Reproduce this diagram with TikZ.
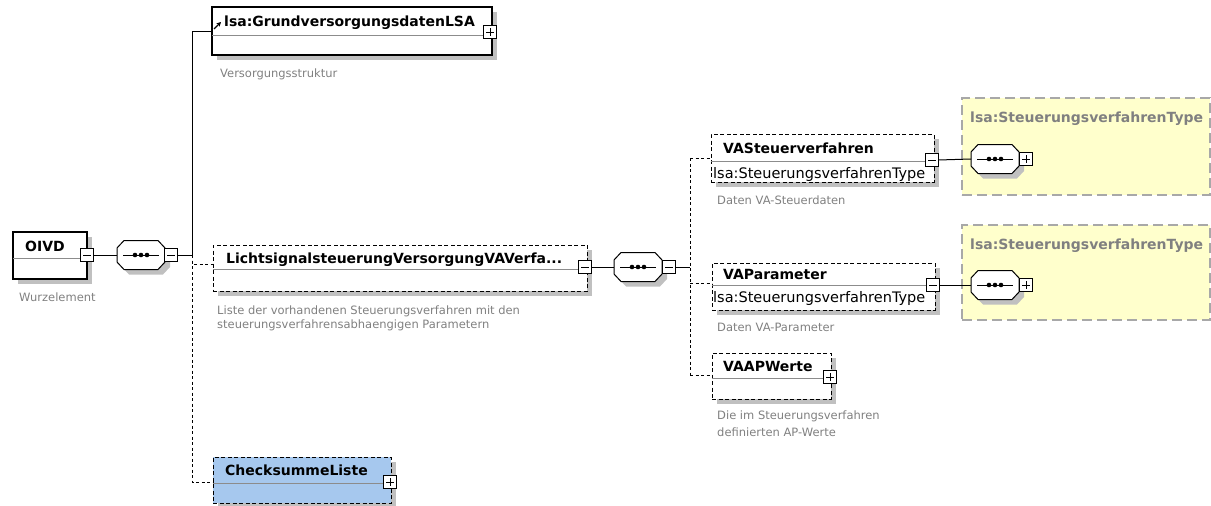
\documentclass[tikz,border=0pt]{standalone}
\usepackage{fontspec}
\setmainfont{DejaVu Sans}
\usetikzlibrary{arrows.meta,calc}
\definecolor{shadowc}{HTML}{C0C0C0}
\definecolor{divc}{HTML}{8C8C8C}
\definecolor{annc}{HTML}{808080}
\definecolor{yellowc}{HTML}{FFFFCC}
\definecolor{ybord}{HTML}{A8A8A8}
\definecolor{bluec}{HTML}{A6C8EE}
\tikzset{
  ebox/.style={draw=black, fill=white, line width=1.1pt, inner sep=0pt, outer sep=0pt},
  dbox/.style={ebox, line width=1pt, dash pattern=on 4pt off 2.5pt},
  tgl/.style={draw=black, fill=white, line width=0.9pt, minimum width=13pt, minimum height=13pt, inner sep=0pt, outer sep=0pt},
  seqanchor/.style={rectangle, minimum width=48pt, minimum height=29pt, inner sep=0pt, outer sep=0pt},
  conn/.style={draw=black, line width=1pt},
  dconn/.style={conn, dash pattern=on 3pt off 2.5pt},
  ttl/.style={anchor=base west, inner sep=0pt, font=\fontsize{14}{16}\selectfont\bfseries},
  typ/.style={anchor=base west, inner sep=0pt, font=\fontsize{14.5}{17}\selectfont},
  ann/.style={anchor=base west, inner sep=0pt, text=annc, font=\fontsize{11.5}{14}\selectfont},
}
% element box: name, x1, y1, x2, y2, divider y, style
\newcommand\elembox[7]{%
  \fill[shadowc] ({#2+5},{#3+5}) rectangle ({#4+5},{#5+5});
  \node[#7, minimum width={#4-#2}, minimum height={#5-#3}] (#1) at ({(#2+#4)/2},{(#3+#5)/2}) {};
  \draw[divc, line width=0.8pt] (#2,#6) -- (#4,#6);
}
% toggle: name, x, y, plus(1)/minus(0)
\newcommand\tglbox[4]{%
  \node[tgl] (#1) at (#2,#3) {};
  \draw[line width=0.9pt] ($(#1.center)+(-4,0)$) -- ($(#1.center)+(4,0)$);
  \ifnum#4=1 \draw[line width=0.9pt] ($(#1.center)+(0,-4)$) -- ($(#1.center)+(0,4)$);\fi
}
% octagon path around (x,y)
\newcommand\octpath[2]{({#1-24},{#2-7}) -- ({#1-17},{#2-14.5}) -- ({#1+17},{#2-14.5}) -- ({#1+24},{#2-7}) -- ({#1+24},{#2+7}) -- ({#1+17},{#2+14.5}) -- ({#1-17},{#2+14.5}) -- ({#1-24},{#2+7}) -- cycle}
% sequence compositor: name, x, y
\newcommand\seqbox[3]{%
  \fill[shadowc] \octpath{#2+5}{#3+5};
  \draw[fill=white, line width=1pt] \octpath{#2}{#3};
  \node[seqanchor] (#1) at (#2,#3) {};
  \draw[line width=1pt] ($(#1.center)+(-18,0)$) -- ($(#1.center)+(18,0)$);
  \foreach \dx in {-6,0,6} {\fill ($(#1.center)+(\dx,0)$) circle (2.3pt);}
}
\begin{document}
\begin{tikzpicture}[x=1pt,y=-1pt]
\useasboundingbox (0,0) rectangle (1211,506);

% yellow type boxes
\node[draw=ybord, fill=yellowc, line width=1.2pt, dash pattern=on 10pt off 5pt, minimum width=248pt, minimum height=97pt, inner sep=0pt] (ty1) at (1086,146.5) {};
\node[draw=ybord, fill=yellowc, line width=1.2pt, dash pattern=on 10pt off 5pt, minimum width=248pt, minimum height=95pt, inner sep=0pt] (ty2) at (1086,272.5) {};
\node[ttl, text=annc] (ty1t) at (970,122) {lsa:SteuerungsverfahrenType};
\node[ttl, text=annc] (ty2t) at (970,249) {lsa:SteuerungsverfahrenType};

% OIVD root
\elembox{oivd}{13}{232}{87}{279}{258}{ebox}
\node[ttl] (oivdt) at (25,251) {OIVD};
\node[ann] (oivda) at (19,301) {Wurzelement};
\tglbox{oivdg}{87}{255}{0}

% first sequence
\seqbox{seq1}{141}{255}
\tglbox{seq1g}{171}{255}{0}
\coordinate (j1) at (192,255);

% Grundversorgungsdaten
\elembox{grund}{212}{7}{492}{55}{35}{ebox}
\node[ttl] (grundt) at (224,27) {lsa:GrundversorgungsdatenLSA};
\draw[line width=1.2pt, -{Stealth[length=4.5pt,width=4.5pt]}] (214,29) -- (221,22);
\tglbox{grundg}{490}{32}{1}
\node[ann] (grunda) at (220,77) {Versorgungsstruktur};

% Lichtsignal...
\elembox{licht}{213}{245}{587}{291}{269}{dbox}
\node[ttl] (lichtt) at (226,263) {LichtsignalsteuerungVersorgungVAVerfa...};
\tglbox{lichtg}{585}{267}{0}
\node[ann] (lichta1) at (217,314) {Liste der vorhandenen Steuerungsverfahren mit den};
\node[ann] (lichta2) at (217,328) {steuerungsverfahrensabhaengigen Parametern};

% ChecksummeListe
\fill[shadowc] (218,462) rectangle (396,508);
\node[dbox, fill=bluec, minimum width=178pt, minimum height=46pt] (check) at (302,480) {};
\draw[divc, line width=0.8pt] (213,483) -- (391,483);
\node[ttl] (checkt) at (225,475) {ChecksummeListe};
\tglbox{checkg}{390}{482}{1}

% second sequence
\seqbox{seq2}{638}{267}
\tglbox{seq2g}{669}{267}{0}
\coordinate (j2) at (690,267);

% VASteuerverfahren
\elembox{vast}{711}{134}{934}{182}{161}{dbox}
\node[ttl] (vastt) at (723,153) {VASteuerverfahren};
\node[typ] (vastty) at (713,178) {lsa:SteuerungsverfahrenType};
\node[ann] (vasta) at (717,204) {Daten VA-Steuerdaten};
\tglbox{vastg}{932}{160}{0}

% VAParameter
\elembox{vapar}{712}{263}{935}{310}{285}{dbox}
\node[ttl] (vapart) at (723,279) {VAParameter};
\node[typ] (vaparty) at (713,302) {lsa:SteuerungsverfahrenType};
\node[ann] (vapara) at (717,331) {Daten VA-Parameter};
\tglbox{vaparg}{933}{285}{0}

% VAAPWerte
\elembox{vaap}{712}{353}{831}{399}{378}{dbox}
\node[ttl] (vaapt) at (723,371) {VAAPWerte};
\node[ann] (vaapa1) at (717,419) {Die im Steuerungsverfahren};
\node[ann] (vaapa2) at (717,436) {definierten AP-Werte};
\tglbox{vaapg}{830}{377}{1}

% type-box sequences
\seqbox{tseq1}{995}{159}
\tglbox{tseq1g}{1026}{159}{1}
\seqbox{tseq2}{995}{285}
\tglbox{tseq2g}{1026}{285}{1}

% connectors
\draw[conn] (oivdg.east) -- (seq1.west);
\draw[conn] (seq1g.east) -- (j1);
\draw[conn] (j1) |- (grund.west |- 0,31);
\draw[dconn] (j1) |- (licht.west |- 0,264);
\draw[dconn] (j1) |- (check.west |- 0,482);
\draw[conn] (lichtg.east) -- (seq2.west);
\draw[conn] (seq2g.east) -- (j2);
\coordinate (j2top) at (690,158);
\coordinate (j2bot) at (690,375);
\draw[dconn] (j2top) -- (j2bot);
\draw[dconn] (j2top) -- (vast.west |- 0,158);
\draw[dconn] (690,283) -- (vapar.west |- 0,283);
\draw[dconn] (j2bot) -- (vaap.west |- 0,375);
\draw[conn] (vastg.east) -- (tseq1.west);
\draw[conn] (vaparg.east) -- (tseq2.west);
\end{tikzpicture}
\end{document}
